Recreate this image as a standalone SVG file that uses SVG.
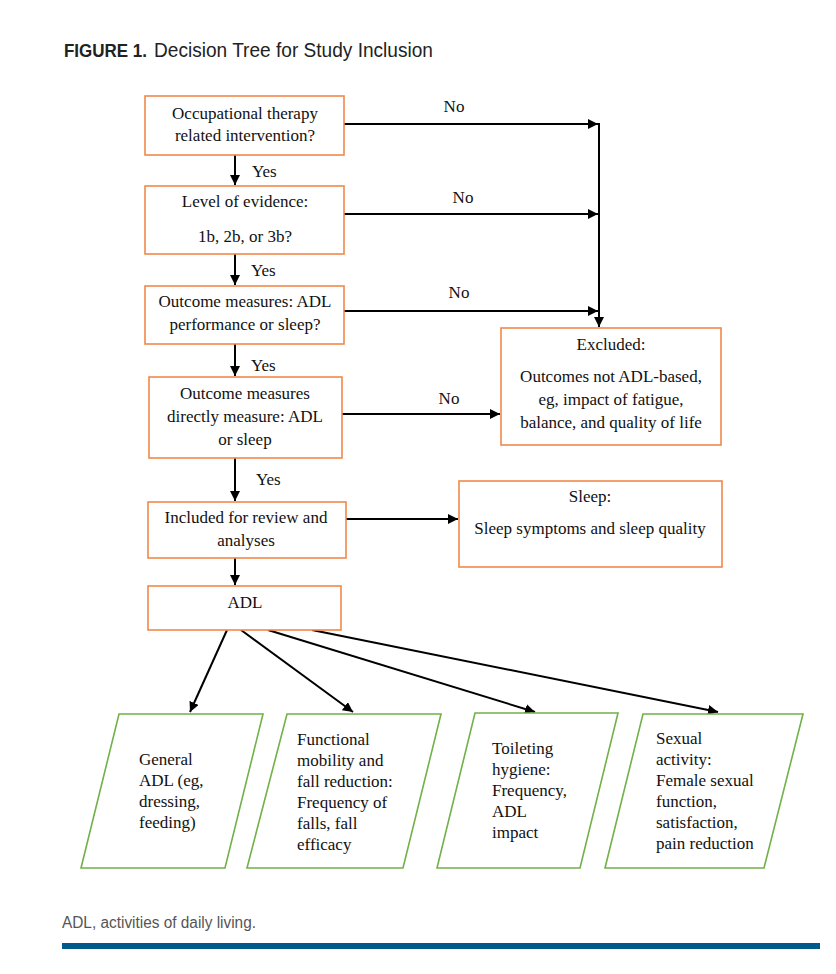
<svg xmlns="http://www.w3.org/2000/svg" width="836" height="974" viewBox="0 0 836 974">
<defs>
<marker id="ah" viewBox="0 0 10 10" refX="10" refY="5" markerWidth="5" markerHeight="5" orient="auto" markerUnits="strokeWidth">
<path d="M0,0 L10,5 L0,10 z" fill="#000"/>
</marker>
</defs>
<style>
.box{fill:#fff;stroke:#F0894A;stroke-width:1.6}
.para{fill:#fff;stroke:#72B048;stroke-width:1.6}
.t{font-family:"Liberation Sans Narrow","Liberation Serif","Times New Roman",serif;font-size:17px;fill:#111}
.t{font-family:"Liberation Serif","Times New Roman",serif}
.c{text-anchor:middle}
.con{stroke:#000;stroke-width:2;fill:none;marker-end:url(#ah)}
.ttl{font-family:"Liberation Sans",Arial,sans-serif;fill:#222}
</style>
<rect width="836" height="974" fill="#fff"/>
<text class="ttl" x="64" y="57" font-size="18" font-weight="bold" textLength="83" lengthAdjust="spacingAndGlyphs">FIGURE 1.</text>
<text class="ttl" x="154" y="57" font-size="20" textLength="279" lengthAdjust="spacingAndGlyphs">Decision Tree for Study Inclusion</text>

<g id="connectors">
<line class="con" x1="344" y1="124" x2="598" y2="124"/>
<line class="con" x1="344" y1="214" x2="598" y2="214"/>
<line class="con" x1="344" y1="311" x2="598" y2="311"/>
<line class="con" x1="599" y1="123" x2="599" y2="327"/>
<line class="con" x1="342" y1="414" x2="500" y2="414"/>
<line class="con" x1="346" y1="519" x2="458" y2="519"/>
<line class="con" x1="235" y1="155" x2="235" y2="185"/>
<line class="con" x1="235" y1="254" x2="235" y2="285"/>
<line class="con" x1="235" y1="344" x2="235" y2="376"/>
<line class="con" x1="235" y1="458" x2="235" y2="501"/>
<line class="con" x1="235" y1="558" x2="235" y2="585"/>
<line class="con" x1="227" y1="630" x2="190" y2="712"/>
<line class="con" x1="241" y1="630" x2="353" y2="712"/>
<line class="con" x1="268" y1="630" x2="535" y2="712"/>
<line class="con" x1="312" y1="630" x2="718" y2="712"/>
<text class="t c" x="454" y="112">No</text>
<text class="t c" x="463" y="203">No</text>
<text class="t c" x="459" y="298">No</text>
<text class="t c" x="449" y="404">No</text>
<text class="t" x="252" y="177">Yes</text>
<text class="t" x="251" y="276">Yes</text>
<text class="t" x="251" y="371">Yes</text>
<text class="t" x="256" y="485">Yes</text>
</g>

<g id="n1">
<rect class="box" x="145" y="96" width="199" height="59"/>
<text class="t c" x="245" y="119">Occupational therapy</text>
<text class="t c" x="245" y="141">related intervention?</text>
</g>
<g id="n2">
<rect class="box" x="145" y="186" width="199" height="68"/>
<text class="t c" x="245" y="207">Level of evidence:</text>
<text class="t c" x="245" y="242">1b, 2b, or 3b?</text>
</g>
<g id="n3">
<rect class="box" x="145" y="286" width="199" height="58"/>
<text class="t c" x="245" y="307">Outcome measures: ADL</text>
<text class="t c" x="245" y="330">performance or sleep?</text>
</g>
<g id="n4">
<rect class="box" x="149" y="377" width="193" height="81"/>
<text class="t c" x="245" y="399">Outcome measures</text>
<text class="t c" x="245" y="422">directly measure: ADL</text>
<text class="t c" x="245" y="445">or sleep</text>
</g>
<g id="excluded">
<rect class="box" x="501" y="328" width="220" height="117"/>
<text class="t c" x="611" y="350">Excluded:</text>
<text class="t c" x="611" y="382">Outcomes not ADL-based,</text>
<text class="t c" x="611" y="405">eg, impact of fatigue,</text>
<text class="t c" x="611" y="428">balance, and quality of life</text>
</g>
<g id="n5">
<rect class="box" x="148" y="502" width="198" height="56"/>
<text class="t c" x="246" y="523">Included for review and</text>
<text class="t c" x="246" y="546">analyses</text>
</g>
<g id="sleep">
<rect class="box" x="459" y="481" width="263" height="86"/>
<text class="t c" x="590" y="502">Sleep:</text>
<text class="t c" x="590" y="534">Sleep symptoms and sleep quality</text>
</g>
<g id="adl">
<rect class="box" x="148" y="586" width="193" height="44"/>
<text class="t c" x="245" y="608">ADL</text>
</g>
<g id="p1">
<polygon class="para" points="119,714 263,714 225,868 81,868"/>
<text class="t" x="139" y="765">General</text>
<text class="t" x="139" y="786">ADL (eg,</text>
<text class="t" x="139" y="807">dressing,</text>
<text class="t" x="139" y="828">feeding)</text>
</g>
<g id="p2">
<polygon class="para" points="287,714 441,714 403,868 247,868"/>
<text class="t" x="297" y="745">Functional</text>
<text class="t" x="297" y="766">mobility and</text>
<text class="t" x="297" y="787">fall reduction:</text>
<text class="t" x="297" y="808">Frequency of</text>
<text class="t" x="297" y="829">falls, fall</text>
<text class="t" x="297" y="850">efficacy</text>
</g>
<g id="p3">
<polygon class="para" points="475,713 618,713 580,868 437,868"/>
<text class="t" x="492" y="754">Toileting</text>
<text class="t" x="492" y="775">hygiene:</text>
<text class="t" x="492" y="796">Frequency,</text>
<text class="t" x="492" y="817">ADL</text>
<text class="t" x="492" y="838">impact</text>
</g>
<g id="p4">
<polygon class="para" points="643,714 803,714 764,868 605,868"/>
<text class="t" x="656" y="744">Sexual</text>
<text class="t" x="656" y="765">activity:</text>
<text class="t" x="656" y="786">Female sexual</text>
<text class="t" x="656" y="807">function,</text>
<text class="t" x="656" y="828">satisfaction,</text>
<text class="t" x="656" y="849">pain reduction</text>
</g>

<text x="62" y="928" font-family="Liberation Sans, Arial, sans-serif" font-size="16" fill="#555" textLength="194" lengthAdjust="spacingAndGlyphs">ADL, activities of daily living.</text>
<rect x="62" y="943" width="758" height="6" fill="#005A8C"/>
</svg>
